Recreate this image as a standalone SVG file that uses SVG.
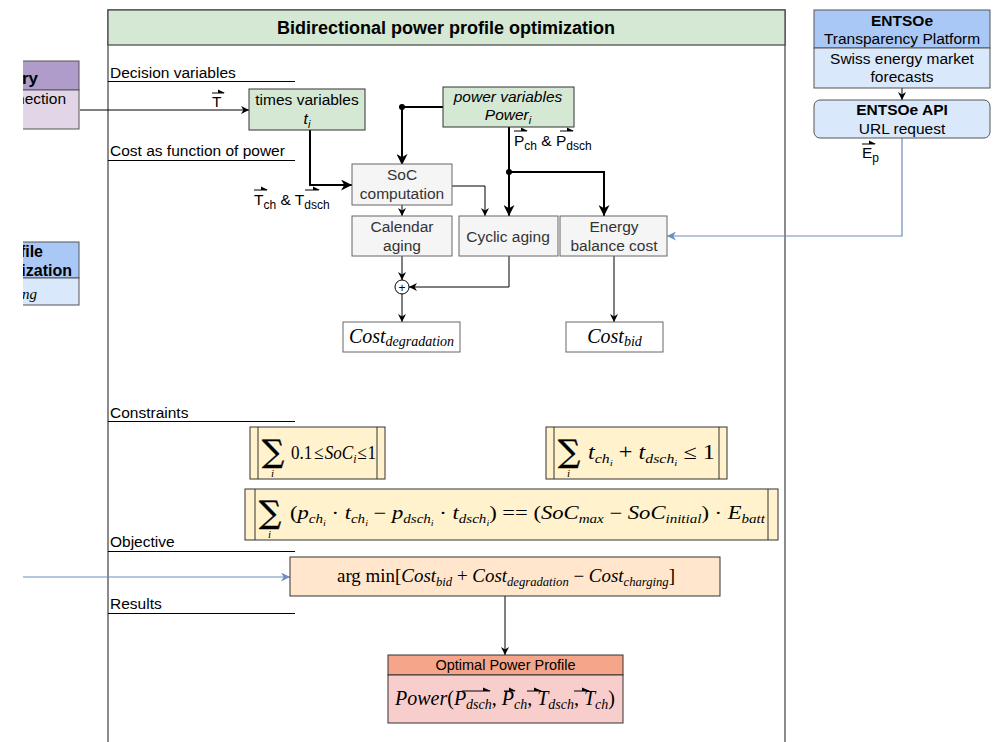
<svg xmlns="http://www.w3.org/2000/svg" width="1000" height="742" viewBox="0 0 1000 742">
  <style>
    .lbl { font-family: "Liberation Sans", Arial, sans-serif; font-size: 15.5px; fill: #000; }
    .bt { font-family: "Liberation Sans", Arial, sans-serif; font-size: 15.5px; fill: #333; text-anchor: middle; }
    .btb { font-family: "Liberation Sans", Arial, sans-serif; font-size: 15.5px; fill: #000; text-anchor: middle; font-weight: bold; }
    .m { font-family: "Liberation Serif", "DejaVu Serif", serif; font-style: italic; fill: #000; }
    .up { font-style: normal; }
    .sig { font-family: "DejaVu Serif", serif; font-size: 31px; fill: #000; stroke: #000; stroke-width: 0.5; }
    .grey { fill: #f5f5f5; stroke: #666; stroke-width: 1; }
    .sec { stroke: #000; stroke-width: 1; }
    .thick { fill: none; stroke: #000; stroke-width: 2; }
    .thin { fill: none; stroke: #000; stroke-width: 1; }
    .blue { fill: none; stroke: #6c8ebf; stroke-width: 1.2; }
    .proc { fill: #fff2cc; stroke: #333; stroke-width: 1; }
    .vec { fill: #000; }
  </style>
  <defs>
    <marker id="ahThick" markerUnits="userSpaceOnUse" viewBox="0 0 10 10" refX="10" refY="5" markerWidth="11" markerHeight="11" orient="auto">
      <path d="M0,0 L10,5 L0,10 L3,5 Z" fill="#000"/>
    </marker>
    <marker id="ahThin" markerUnits="userSpaceOnUse" viewBox="0 0 10 10" refX="10" refY="5" markerWidth="8" markerHeight="8" orient="auto">
      <path d="M0,0 L10,5 L0,10 L3,5 Z" fill="#000"/>
    </marker>
    <marker id="ahBlue" markerUnits="userSpaceOnUse" viewBox="0 0 10 10" refX="10" refY="5" markerWidth="9" markerHeight="9" orient="auto">
      <path d="M0,0 L10,5 L0,10 L3,5 Z" fill="#6c8ebf"/>
    </marker>
    <!-- the left-hand sources are cut by the page edge -->
    <clipPath id="leftCut">
      <rect x="23" y="0" width="100" height="742"/>
    </clipPath>
  </defs>

  <rect width="1000" height="742" fill="#fff"/>

  <!-- Main swimlane container -->
  <g id="container">
    <rect x="108" y="10" width="677" height="745" fill="#fff" stroke="#666" stroke-width="1.5"/>
    <rect x="108" y="10" width="677" height="35" fill="#d5e8d4" stroke="#444" stroke-width="1.2"/>
    <text x="446" y="34" class="btb" style="font-size:18px">Bidirectional power profile optimization</text>
  </g>

  <!-- Section headings -->
  <g id="sections">
    <text x="110" y="78" class="lbl">Decision variables</text>
    <line x1="108" y1="81.5" x2="295" y2="81.5" class="sec"/>
    <text x="110" y="156" class="lbl">Cost as function of power</text>
    <line x1="108" y1="160.5" x2="295" y2="160.5" class="sec"/>
    <text x="110" y="418" class="lbl">Constraints</text>
    <line x1="108" y1="421.5" x2="295" y2="421.5" class="sec"/>
    <text x="110" y="547" class="lbl">Objective</text>
    <line x1="108" y1="551.5" x2="295" y2="551.5" class="sec"/>
    <text x="110" y="609" class="lbl">Results</text>
    <line x1="108" y1="613.5" x2="295" y2="613.5" class="sec"/>
  </g>

  <!-- Connectors -->
  <g id="connectors">
    <!-- external inputs -->
    <line x1="80" y1="110" x2="249" y2="110" class="thin" stroke="#333" marker-end="url(#ahThin)"/>
    <line x1="23" y1="577" x2="290" y2="577" class="blue" marker-end="url(#ahBlue)"/>
    <path d="M902,138 V236 H667" class="blue" marker-end="url(#ahBlue)"/>
    <line x1="902" y1="88" x2="902" y2="100" class="thin" marker-end="url(#ahThin)"/>

    <!-- decision variables to cost blocks -->
    <path d="M443,107 H402 V165" class="thick" marker-end="url(#ahThick)"/>
    <circle cx="402" cy="107" r="3" fill="#000"/>
    <path d="M310,130 V185 H352" class="thick" marker-end="url(#ahThick)"/>
    <path d="M509,127 V216" class="thick" marker-end="url(#ahThick)"/>
    <path d="M509,172 H604 V216" class="thick" marker-end="url(#ahThick)"/>
    <circle cx="509" cy="172" r="3" fill="#000"/>

    <!-- SoC to aging -->
    <line x1="402" y1="205" x2="402" y2="216" class="thin" stroke="#333" marker-end="url(#ahThin)"/>
    <path d="M452,186 H485 V216" class="thin" stroke="#333" marker-end="url(#ahThin)"/>

    <!-- aging to degradation sum -->
    <line x1="402" y1="256" x2="402" y2="280" class="thin" marker-end="url(#ahThin)"/>
    <path d="M509,256 V287 H409" class="thin" marker-end="url(#ahThin)"/>
    <line x1="402" y1="294" x2="402" y2="322" class="thin" marker-end="url(#ahThin)"/>
    <line x1="614" y1="256" x2="614" y2="322" class="thin" marker-end="url(#ahThin)"/>

    <!-- objective to result -->
    <line x1="505" y1="596" x2="505" y2="655" class="thin" marker-end="url(#ahThin)"/>
  </g>

  <!-- Connector labels -->
  <g id="labels">
    <text x="212" y="107" class="lbl">T</text>
    <line x1="212" y1="93" x2="224" y2="93" stroke="#000" stroke-width="1"/>
    <polygon points="218,89.5 225,93 218,93" class="vec"/>

    <text x="254" y="205" class="lbl">T<tspan dy="4" font-size="12">ch</tspan><tspan dy="-4"> &amp; T</tspan><tspan dy="4" font-size="12">dsch</tspan></text>
    <line x1="254" y1="190" x2="267" y2="190" stroke="#000" stroke-width="1"/>
    <polygon points="261,186.5 268,190 261,190" class="vec"/>
    <line x1="305" y1="190" x2="319" y2="190" stroke="#000" stroke-width="1"/>
    <polygon points="313,186.5 320,190 313,190" class="vec"/>

    <text x="514" y="146" class="lbl">P<tspan dy="4" font-size="12">ch</tspan><tspan dy="-4"> &amp; P</tspan><tspan dy="4" font-size="12">dsch</tspan></text>
    <line x1="514" y1="131" x2="527" y2="131" stroke="#000" stroke-width="1"/>
    <polygon points="521,127.5 528,131 521,131" class="vec"/>
    <line x1="560" y1="131" x2="573" y2="131" stroke="#000" stroke-width="1"/>
    <polygon points="567,127.5 574,131 567,131" class="vec"/>

    <text x="862" y="158" class="lbl">E<tspan dy="4" font-size="12">p</tspan></text>
    <line x1="862" y1="144" x2="875" y2="144" stroke="#000" stroke-width="1"/>
    <polygon points="869,140.5 876,144 869,144" class="vec"/>
  </g>

  <!-- Partially visible source nodes on the left -->
  <g id="battery" clip-path="url(#leftCut)">
    <rect x="-10" y="61" width="89" height="29" fill="#b09ccb" stroke="#555"/>
    <rect x="-10" y="90" width="89" height="39" fill="#e1d5e7" stroke="#555"/>
    <text x="38" y="84" class="btb" style="text-anchor:end;font-size:17px">ry</text>
    <text x="66" y="104" class="lbl" style="text-anchor:end">nection</text>
  </g>
  <g id="profile-optimization" clip-path="url(#leftCut)">
    <rect x="-10" y="242" width="89" height="36" fill="#a9c8f5" stroke="#555"/>
    <rect x="-10" y="278" width="89" height="27" fill="#dae8fc" stroke="#555"/>
    <text x="43" y="257" class="btb" style="text-anchor:end;font-size:16px">ofile</text>
    <text x="72" y="276" class="btb" style="text-anchor:end;font-size:16px">mization</text>
    <text x="37" y="299" class="m" style="text-anchor:end;font-size:15px">ing</text>
  </g>

  <!-- Decision variables -->
  <g id="times-variables">
    <rect x="249" y="89" width="116" height="41" fill="#d5e8d4" stroke="#333"/>
    <text x="307" y="105" class="bt" style="fill:#000">times variables</text>
    <text x="307" y="124" class="bt" style="fill:#000;font-style:italic">t<tspan dy="4" font-size="11">i</tspan></text>
  </g>
  <g id="power-variables">
    <rect x="443" y="87" width="131" height="40" fill="#d5e8d4" stroke="#333"/>
    <text x="508" y="102" class="bt" style="fill:#000;font-style:italic">power variables</text>
    <text x="508" y="120" class="bt" style="fill:#000;font-style:italic">Power<tspan dy="4" font-size="11">i</tspan></text>
  </g>

  <!-- Cost blocks -->
  <g id="soc-computation">
    <rect x="352" y="164" width="100" height="41" class="grey"/>
    <text x="402" y="180" class="bt">SoC</text>
    <text x="402" y="199" class="bt">computation</text>
  </g>
  <g id="calendar-aging">
    <rect x="352" y="216" width="100" height="40" class="grey"/>
    <text x="402" y="232" class="bt">Calendar</text>
    <text x="402" y="251" class="bt">aging</text>
  </g>
  <g id="cyclic-aging">
    <rect x="459" y="216" width="99" height="40" class="grey"/>
    <text x="508" y="242" class="bt">Cyclic aging</text>
  </g>
  <g id="energy-balance">
    <rect x="560" y="216" width="107" height="40" class="grey"/>
    <text x="614" y="232" class="bt">Energy</text>
    <text x="614" y="251" class="bt">balance cost</text>
  </g>
  <g id="sum">
    <circle cx="402" cy="287" r="7" fill="#fff" stroke="#000"/>
    <text x="402" y="291.5" class="bt" style="fill:#000;font-size:12px">+</text>
  </g>
  <g id="cost-degradation">
    <rect x="343" y="322" width="117" height="30" class="grey" style="fill:#fff"/>
    <text x="401.5" y="343" class="m" text-anchor="middle" font-size="20">Cost<tspan dy="3" font-size="14">degradation</tspan></text>
  </g>
  <g id="cost-bid">
    <rect x="566" y="322" width="97" height="30" class="grey" style="fill:#fff"/>
    <text x="614.5" y="343" class="m" text-anchor="middle" font-size="20">Cost<tspan dy="3" font-size="14">bid</tspan></text>
  </g>

  <!-- ENTSOe data source -->
  <g id="entsoe-platform">
    <rect x="814" y="10" width="176" height="38" fill="#a9c8f5" stroke="#555"/>
    <rect x="814" y="48" width="176" height="40" fill="#dae8fc" stroke="#555"/>
    <text x="902" y="26" class="btb">ENTSOe</text>
    <text x="902" y="44" class="bt" style="fill:#000">Transparency Platform</text>
    <text x="902" y="64" class="bt" style="fill:#000">Swiss energy market</text>
    <text x="902" y="82" class="bt" style="fill:#000">forecasts</text>
  </g>
  <g id="entsoe-api">
    <rect x="814" y="100" width="176" height="38" rx="6" ry="6" fill="#dae8fc" stroke="#555"/>
    <text x="902" y="115" class="btb">ENTSOe API</text>
    <text x="902" y="134" class="bt" style="fill:#000">URL request</text>
  </g>

  <!-- Constraints -->
  <g id="constraint-soc">
    <rect x="250" y="427" width="135" height="52" class="proc"/>
    <line x1="258" y1="427" x2="258" y2="479" stroke="#333"/>
    <line x1="377" y1="427" x2="377" y2="479" stroke="#333"/>
    <text x="262" y="462" class="sig">∑</text>
    <text x="271" y="477" class="m" font-size="11">i</text>
    <g transform="translate(291,459) scale(0.9,1)">
      <text y="0" class="m" font-size="19"><tspan x="0" class="up">0.1</tspan><tspan x="25.5" class="up">≤</tspan><tspan x="37.5">SoC</tspan><tspan dy="4" font-size="13">i</tspan><tspan x="73.5" dy="-4" class="up">≤</tspan><tspan x="85" class="up">1</tspan></text>
    </g>
  </g>
  <g id="constraint-time">
    <rect x="546" y="427" width="181" height="52" class="proc"/>
    <line x1="554" y1="427" x2="554" y2="479" stroke="#333"/>
    <line x1="719" y1="427" x2="719" y2="479" stroke="#333"/>
    <text x="558" y="462" class="sig">∑</text>
    <text x="567" y="477" class="m" font-size="11">i</text>
    <text x="588" y="459" class="m" font-size="20" textLength="127" lengthAdjust="spacingAndGlyphs">t<tspan dy="4" font-size="13">ch</tspan><tspan dy="3" font-size="9">i</tspan><tspan dy="-7" class="up">  +  </tspan>t<tspan dy="4" font-size="13">dsch</tspan><tspan dy="3" font-size="9">i</tspan><tspan dy="-7" class="up">  ≤  1</tspan></text>
  </g>
  <g id="constraint-energy">
    <rect x="245" y="489" width="533" height="51" class="proc"/>
    <line x1="255" y1="489" x2="255" y2="540" stroke="#333"/>
    <line x1="768" y1="489" x2="768" y2="540" stroke="#333"/>
    <text x="259" y="523" class="sig">∑</text>
    <text x="268" y="538" class="m" font-size="11">i</text>
    <text x="290" y="519" class="m" font-size="18" textLength="475" lengthAdjust="spacingAndGlyphs"><tspan class="up">(</tspan>p<tspan dy="4" font-size="12">ch</tspan><tspan dy="3" font-size="8">i</tspan><tspan dy="-7" class="up"> · </tspan>t<tspan dy="4" font-size="12">ch</tspan><tspan dy="3" font-size="8">i</tspan><tspan dy="-7" class="up"> − </tspan>p<tspan dy="4" font-size="12">dsch</tspan><tspan dy="3" font-size="8">i</tspan><tspan dy="-7" class="up"> · </tspan>t<tspan dy="4" font-size="12">dsch</tspan><tspan dy="3" font-size="8">i</tspan><tspan dy="-7" class="up">) == (</tspan>SoC<tspan dy="4" font-size="12">max</tspan><tspan dy="-4" class="up"> − </tspan>SoC<tspan dy="4" font-size="12">initial</tspan><tspan dy="-4" class="up">) · </tspan>E<tspan dy="4" font-size="12">batt</tspan></text>
  </g>

  <!-- Objective -->
  <g id="objective">
    <rect x="290" y="557" width="430" height="39" fill="#ffe6cc" stroke="#333"/>
    <text x="337" y="582" class="m" font-size="18" textLength="338" lengthAdjust="spacingAndGlyphs"><tspan class="up">arg min[</tspan>Cost<tspan dy="4" font-size="12">bid</tspan><tspan dy="-4" class="up"> + </tspan>Cost<tspan dy="4" font-size="12">degradation</tspan><tspan dy="-4" class="up"> − </tspan>Cost<tspan dy="4" font-size="12">charging</tspan><tspan dy="-4" class="up">]</tspan></text>
  </g>

  <!-- Result -->
  <g id="optimal-power-profile">
    <rect x="388" y="655" width="235" height="20" fill="#f5a58a" stroke="#333"/>
    <rect x="388" y="675" width="235" height="48" fill="#f8cecc" stroke="#333"/>
    <text x="505.5" y="670" class="bt" style="fill:#000;font-size:14.5px">Optimal Power Profile</text>
    <text x="395" y="705" class="m" font-size="20" textLength="220" lengthAdjust="spacingAndGlyphs">Power<tspan class="up">(</tspan>P<tspan dy="4" font-size="14">dsch</tspan><tspan dy="-4" class="up">, </tspan>P<tspan dy="4" font-size="14">ch</tspan><tspan dy="-4" class="up">, </tspan>T<tspan dy="4" font-size="14">dsch</tspan><tspan dy="-4" class="up">, </tspan>T<tspan dy="4" font-size="14">ch</tspan><tspan dy="-4" class="up">)</tspan></text>
    <line x1="462" y1="691" x2="490" y2="691" stroke="#000" stroke-width="1"/>
    <polygon points="483,687.5 491,691 483,691" class="vec"/>
    <line x1="504" y1="691" x2="515" y2="691" stroke="#000" stroke-width="1"/>
    <polygon points="509,687.5 516,691 509,691" class="vec"/>
    <line x1="527" y1="691" x2="541" y2="691" stroke="#000" stroke-width="1"/>
    <polygon points="534,687.5 542,691 534,691" class="vec"/>
    <line x1="574" y1="691" x2="589" y2="691" stroke="#000" stroke-width="1"/>
    <polygon points="582,687.5 590,691 582,691" class="vec"/>
  </g>
</svg>
